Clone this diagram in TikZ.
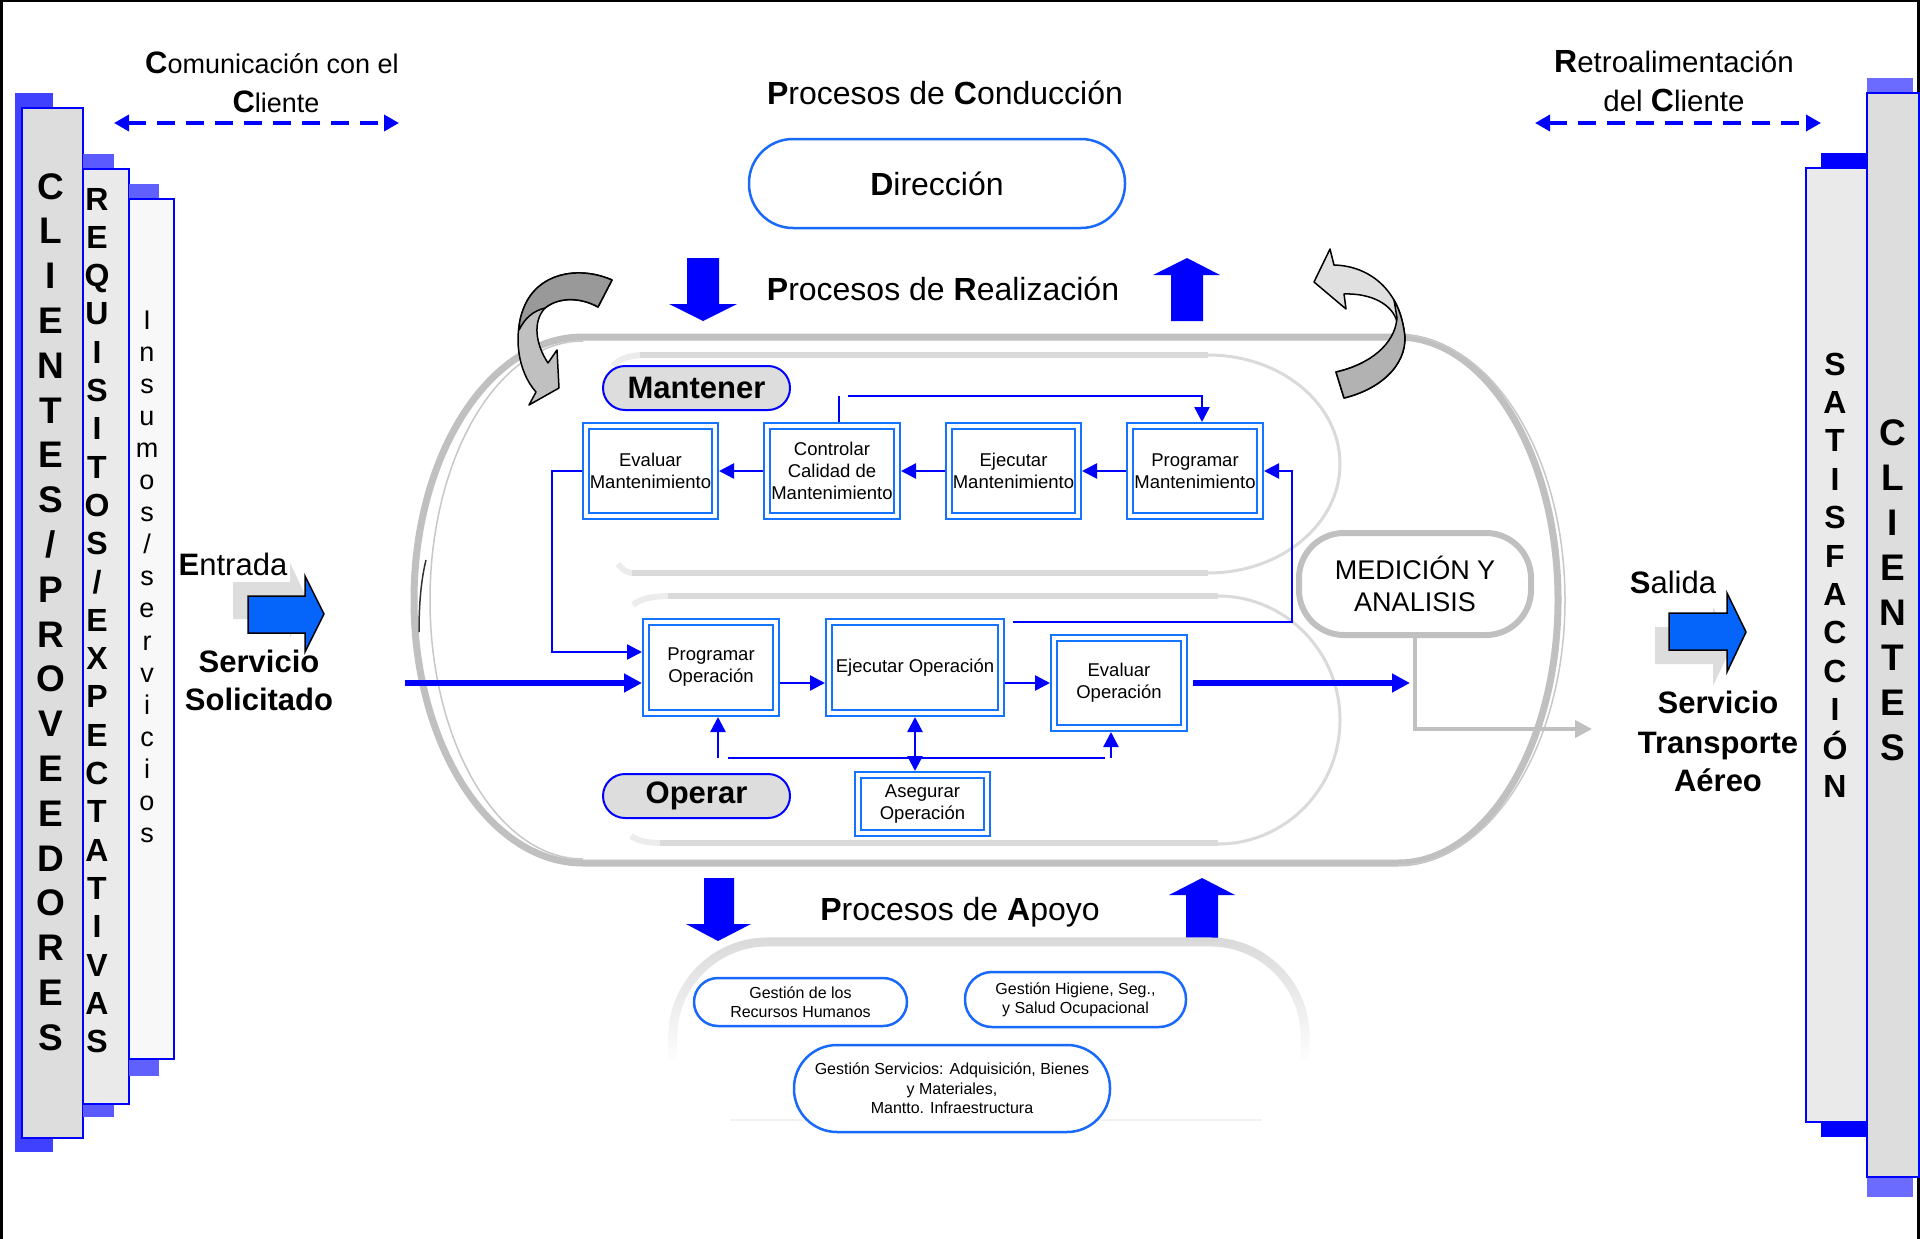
\documentclass[tikz,border=0pt]{standalone}
\usepackage{fontspec}
\setmainfont{Liberation Sans}
\usetikzlibrary{arrows.meta,calc,fadings}
\newcommand\fsz[2]{\fontsize{#1pt}{#2pt}\selectfont}
\definecolor{pureblue}{RGB}{0,0,255}
\definecolor{boxblue}{RGB}{20,115,255}
\definecolor{pillblue}{RGB}{25,105,250}
\definecolor{arrowblue}{RGB}{5,100,250}
\definecolor{shadeA}{RGB}{64,64,255}
\definecolor{shadeB}{RGB}{90,90,255}
\definecolor{shadeC}{RGB}{96,96,255}
\definecolor{shadeD}{RGB}{107,107,255}
\definecolor{fillA}{RGB}{221,221,221}
\definecolor{fillB}{RGB}{234,234,234}
\definecolor{fillC}{RGB}{248,248,248}
\definecolor{ringgray}{RGB}{192,192,192}
\definecolor{thingray}{RGB}{200,200,200}
\definecolor{lanegray}{RGB}{218,218,218}
\definecolor{darkband}{RGB}{153,153,153}
\definecolor{midband}{RGB}{192,192,192}
\definecolor{lightband}{RGB}{224,224,224}
\definecolor{lowband}{RGB}{178,178,178}
\definecolor{shadowgray}{RGB}{221,221,221}

\begin{document}
\begin{tikzpicture}[x=1pt,y=-1pt,
  sidebox/.style={draw=pureblue, line width=2pt},
  vletter/.style={anchor=base, inner sep=0pt, outer sep=0pt},
  txt/.style={anchor=base, inner sep=0pt},
  dblbox/.style={draw=boxblue, double=white, double distance=4pt, line width=1.8pt, fill=white, outer sep=4pt, inner sep=0pt, align=center, font=\fsz{18.5}{22}},
  oppill/.style={draw=pureblue, fill=fillA, line width=2pt, inner sep=0pt, minimum width=187pt, minimum height=44pt, rounded corners=22pt, font=\bfseries\fsz{31}{31}},
  stadium/.style={draw=pillblue, fill=white, line width=2.5pt, inner sep=0pt, align=center},
  conn/.style={draw=pureblue, line width=2.5pt, -{Triangle[length=15pt,width=15pt]}},
  dconn/.style={draw=pureblue, line width=2.5pt, {Triangle[length=15pt,width=15pt]}-{Triangle[length=15pt,width=15pt]}},
  bline/.style={draw=pureblue, line width=2.5pt},
  flow/.style={draw=pureblue, line width=6pt, -{Triangle[length=18pt,width=18pt]}},
  grayconn/.style={draw=ringgray, line width=4pt, -{Triangle[length=17pt,width=17pt]}},
  dasharrow/.style={draw=pureblue, line width=3.5pt, dash pattern=on 18pt off 11pt, {Triangle[length=15pt,width=16pt]}-{Triangle[length=15pt,width=16pt]}},
  blockarrow/.style={fill=arrowblue, draw=black, line width=1.5pt, line join=miter},
  lane/.style={draw=lanegray, line width=6pt},
  lanearc/.style={draw=lanegray, line width=3pt},
  ribbon/.style={draw=black, line width=1.5pt, line join=round},
]
\useasboundingbox (0,0) rectangle (1920,1239);
\fill[white] (0,0) rectangle (1920,1239);

% frame
\fill[black] (0,0) rectangle (3,1239);
\fill[black] (0,0) rectangle (1920,2);
\fill[black] (1917,0) rectangle (1920,1239);

% ---------- left column stack ----------
\fill[shadeA] (15,93) rectangle (53,1152);
\draw[sidebox, fill=fillA] (22,108) rectangle (83,1138);
\fill[shadeB] (83,154) rectangle (114,1117);
\draw[sidebox, fill=fillB] (83,169) rectangle (129,1104);
\fill[shadeC] (129,184) rectangle (159,1076);
\draw[sidebox, fill=fillC] (129,199) rectangle (174,1059);

\foreach \ch [count=\i from 0] in {C,L,I,E,N,T,E,S,/,P,R,O,V,E,E,D,O,R,E,S}
  \node[vletter, font=\bfseries\fsz{37}{37}] (cp\i) at (51,{199+\i*44.8}) {\ch};
\foreach \ch [count=\i from 0] in {R,E,Q,U,I,S,I,T,O,S,/,E,X,P,E,C,T,A,T,I,V,A,S}
  \node[vletter, font=\bfseries\fsz{32}{32}] (rq\i) at (97,{210+\i*38.3}) {\ch};
\foreach \ch [count=\i from 0] in {I,n,s,u,m,o,s,/,s,e,r,v,i,c,i,o,s}
  \node[vletter, font=\fsz{27}{27}] (is\i) at (147,{329+\i*32.1}) {\ch};

% ---------- right column stack ----------
\fill[shadeD] (1867,78) rectangle (1913,1197);
\draw[sidebox, fill=fillA] (1867,93) rectangle (1919,1177);
\fill[pureblue] (1821,153) rectangle (1867,1137);
\draw[sidebox, fill=fillB] (1806,168) rectangle (1867,1122);

\foreach \ch [count=\i from 0] in {S,A,T,I,S,F,A,C,C,I,Ó,N}
  \node[vletter, font=\bfseries\fsz{32}{32}] (sf\i) at (1835,{375+\i*38.4}) {\ch};
\foreach \ch [count=\i from 0] in {C,L,I,E,N,T,E,S}
  \node[vletter, font=\bfseries\fsz{37}{37}] (cr\i) at (1893,{445+\i*45}) {\ch};

% ---------- top captions with dashed arrows ----------
\node[txt, font=\fsz{27}{27}] (com1) at (272,74) {{\fsz{31}{31}\bfseries C}omunicación con el};
\node[txt, font=\fsz{27}{27}] (com2) at (276,112) {{\fsz{31}{31}\bfseries C}liente};
\coordinate (dl1) at (114,123);
\coordinate (dl2) at (399,123);
\draw[dasharrow] (dl1) -- (dl2);

\node[txt, font=\fsz{29.5}{29.5}] (ret1) at (1674,73) {{\fsz{32}{32}\bfseries R}etroalimentación};
\node[txt, font=\fsz{29.5}{29.5}] (ret2) at (1674,111) {del {\fsz{32}{32}\bfseries C}liente};
\coordinate (dr1) at (1535,123);
\coordinate (dr2) at (1821,123);
\draw[dasharrow] (dr1) -- (dr2);

% ---------- conduction ----------
\node[txt, font=\fsz{32}{32}] (tcond) at (945,104) {{\bfseries P}rocesos de {\bfseries C}onducción};
\node[stadium, minimum width=376pt, minimum height=89pt, rounded corners=44pt, font=\fsz{32}{32}] (dir) at (937,183.5) {{\bfseries D}irección};

\node[txt, font=\fsz{32}{32}] (treal) at (943,300) {{\bfseries P}rocesos de {\bfseries R}ealización};
\fill[pureblue] (687,258) -- (719,258) -- (719,304) -- (737,304) -- (703,321) -- (669,304) -- (687,304) -- cycle;
\fill[pureblue] (1187,258) -- (1220,275) -- (1203,275) -- (1203,321) -- (1171,321) -- (1171,275) -- (1153,275) -- cycle;

% ---------- realization ring ----------
\draw[draw=ringgray, line width=7pt] (583,337) -- (1398,337)
  arc[start angle=-90, end angle=90, x radius=160, y radius=263] -- (583,863)
  arc[start angle=90, end angle=270, x radius=169, y radius=263] -- cycle;
\draw[draw=thingray, line width=1.5pt] (1398,335) arc[start angle=-90, end angle=90, x radius=167, y radius=265];
\draw[draw=thingray, line width=1.5pt] (583,859) arc[start angle=90, end angle=270, x radius=153, y radius=259];
\draw[draw=black!80, line width=1.5pt] (426,560) .. controls (421,580) and (419,605) .. (419,632);

% maintenance lane
\draw[lane] (640,355) -- (1208,355);
\draw[lane] (1208,573) -- (632,573);
\draw[lanearc] (1208,355) arc[start angle=-90, end angle=90, x radius=132, y radius=109];
\draw[lane, opacity=0.5] (613,366) .. controls (619,359) and (628,356) .. (641,355);
\draw[lane, opacity=0.5] (618,564) .. controls (622,570) and (628,573) .. (633,573);

% operation lane
\draw[lane] (668,596) -- (1218,596);
\draw[lane] (1218,843) -- (660,843);
\draw[lanearc] (1218,596) arc[start angle=-90, end angle=90, x radius=122, y radius=124];
\draw[lane, opacity=0.5] (633,605) .. controls (640,599) and (652,596) .. (669,596);
\draw[lane, opacity=0.5] (631,836) .. controls (638,841) and (648,843) .. (661,843);

% ---------- curved ribbons ----------
\draw[ribbon, fill=midband] (612,280) .. controls (580,266) and (540,272) .. (525,305)
  .. controls (512,335) and (518,372) .. (536,392) -- (529,405) -- (559,388) -- (557,350) -- (548,363)
  .. controls (536,345) and (532,322) .. (545,308) .. controls (560,296) and (582,298) .. (598,307) -- cycle;
\draw[ribbon, fill=darkband] (612,280) .. controls (580,266) and (540,272) .. (525,305)
  .. controls (521,314) and (519,322) .. (519,330)
  .. controls (525,318) and (533,311) .. (545,308) .. controls (560,296) and (582,298) .. (598,307) -- cycle;

\draw[ribbon, fill=lightband] (1330,249) -- (1314,282) -- (1346,309) -- (1344,294)
  .. controls (1372,293) and (1393,305) .. (1397,322)
  .. controls (1395,345) and (1368,365) .. (1336,372) -- (1344,398)
  .. controls (1385,388) and (1410,360) .. (1404,330)
  .. controls (1398,290) and (1370,266) .. (1334,265) -- cycle;
\draw[ribbon, fill=lowband] (1397,318)
  .. controls (1395,345) and (1368,365) .. (1336,372) -- (1344,398)
  .. controls (1385,388) and (1410,360) .. (1404,330)
  .. controls (1402,318) and (1399,309) .. (1394,300) -- cycle;

% ---------- maintenance processes ----------
\node[oppill] (mant) at (696.5,388) {Mantener};
\node[dblbox, minimum width=129pt, minimum height=90pt] (evM) at (650.5,471) {Evaluar\\Mantenimiento};
\node[dblbox, minimum width=130pt, minimum height=90pt] (ctM) at (832,471) {Controlar\\Calidad de\\Mantenimiento};
\node[dblbox, minimum width=129pt, minimum height=90pt] (ejM) at (1013.5,471) {Ejecutar\\Mantenimiento};
\node[dblbox, minimum width=130pt, minimum height=90pt] (prM) at (1195,471) {Programar\\Mantenimiento};

\draw[conn] (ctM.west) -- (evM.east);
\draw[conn] (ejM.west) -- (ctM.east);
\draw[conn] (prM.west) -- (ejM.east);
\draw[bline] ($(ctM.north)+(7,0)$) -- ++(0,-26);
\draw[conn] ($(ctM.north)+(16,-26)$) -| ($(prM.north)+(7,0)$);

% ---------- operation processes ----------
\node[oppill] (oper) at (696.5,796) {Operar};
\node[dblbox, minimum width=130pt, minimum height=91pt] (prO) at (711,667.5) {Programar\\Operación};
\node[dblbox, minimum width=172pt, minimum height=91pt] (ejO) at (915,667.5) {Ejecutar Operación};
\node[dblbox, minimum width=130pt, minimum height=90pt] (evO) at (1119,683) {Evaluar\\Operación};
\node[dblbox, minimum width=129pt, minimum height=58pt] (asO) at (922.5,804) {Asegurar\\Operación};

\draw[conn] (evM.west) -- ++(-30,0) |- ($(prO.west)+(0,-15.5)$);
\coordinate (inS) at (405,683);
\draw[flow] (inS) -- (inS -| prO.west);
\draw[conn] (prO.east |- inS) -- (ejO.west |- inS);
\draw[conn] (ejO.east |- inS) -- (evO.west);
\coordinate (outE) at (1410,683);
\draw[flow] ($(evO.east)+(5,0)$) -- (outE);
\draw[dconn] (ejO.south) -- (ejO.south |- asO.north);
\coordinate (busL) at (718,758);
\coordinate (busR) at (1111,758);
\draw[bline] ($(busL)+(10,0)$) -- ($(busR)+(-6,0)$);
\draw[conn] (busL) -- (busL |- prO.south);
\draw[conn] (busR) -- (busR |- evO.south);
\draw[conn] ($(ejO.north east)+(8,4)$) -| ($(prM.east)+(28,0)$) -- (prM.east);

% ---------- measurement ----------
\node[draw=ringgray, line width=6pt, rounded corners=45pt, minimum width=232pt, minimum height=102pt, fill=white, align=center, inner sep=0pt, font=\fsz{27}{32}] (med) at (1415,584) {MEDICIÓN Y\\ANALISIS};
\coordinate (gEnd) at (1592,729);
\draw[grayconn] (med.south) |- (gEnd);

% ---------- input / output ----------
\fill[shadowgray] (233,582) -- (290,582) -- (290,563) -- (308,601) -- (290,638) -- (290,619) -- (233,619) -- cycle;
\draw[blockarrow] (248,596) -- (305,596) -- (305,576) -- (324,614) -- (305,652) -- (305,633) -- (248,633) -- cycle;
\node[txt, font=\fsz{31}{31}] (tin) at (233,575) {{\bfseries E}ntrada};
\node[txt, font=\bfseries\fsz{31}{31}] (tin2) at (259,672) {Servicio};
\node[txt, font=\bfseries\fsz{31}{31}] (tin3) at (259,710) {Solicitado};

\fill[shadowgray] (1655,627) -- (1713,627) -- (1713,607) -- (1732,646) -- (1713,686) -- (1713,664) -- (1655,664) -- cycle;
\draw[blockarrow] (1669,613) -- (1727,613) -- (1727,593) -- (1746,632) -- (1727,672) -- (1727,650) -- (1669,650) -- cycle;
\node[txt, font=\fsz{31}{31}] (tout) at (1673,593) {{\bfseries S}alida};
\node[txt, font=\bfseries\fsz{31}{31}] (tout2) at (1718,713) {Servicio};
\node[txt, font=\bfseries\fsz{31}{31}] (tout3) at (1718,753) {Transporte};
\node[txt, font=\bfseries\fsz{31}{31}] (tout4) at (1718,791) {Aéreo};

% ---------- support processes ----------
\node[txt, font=\fsz{32}{32}] (tapo) at (960,920) {{\bfseries P}rocesos de {\bfseries A}poyo};
\fill[pureblue] (704,878) -- (734,878) -- (734,924) -- (751,924) -- (718,941) -- (686,924) -- (704,924) -- cycle;
\fill[pureblue] (1202,878) -- (1235,895) -- (1218,895) -- (1218,941) -- (1186,941) -- (1186,895) -- (1169,895) -- cycle;
\draw[draw=lanegray, line width=9pt, path fading=south] (673,1060) -- (673,1037)
  arc[start angle=180, end angle=270, radius=95] -- (1211,942)
  arc[start angle=270, end angle=360, radius=95] -- (1306,1060);
\draw[draw=black!5, line width=2pt] (730,1120) -- (1262,1120);

\node[stadium, minimum width=213pt, minimum height=48pt, rounded corners=24pt, font=\fsz{16}{19}] (rrhh) at (800.5,1002) {Gestión de los\\Recursos Humanos};
\node[stadium, minimum width=221pt, minimum height=55pt, rounded corners=27pt, font=\fsz{16}{19}] (hig) at (1075.5,999.5) {Gestión Higiene, Seg.,\\y Salud Ocupacional};
\node[stadium, minimum width=316pt, minimum height=87pt, rounded corners=43pt, font=\fsz{16}{19.5}] (serv) at (952,1088.5) {Gestión Servicios: Adquisición, Bienes\\y Materiales,\\Mantto. Infraestructura};

\end{tikzpicture}
\end{document}
